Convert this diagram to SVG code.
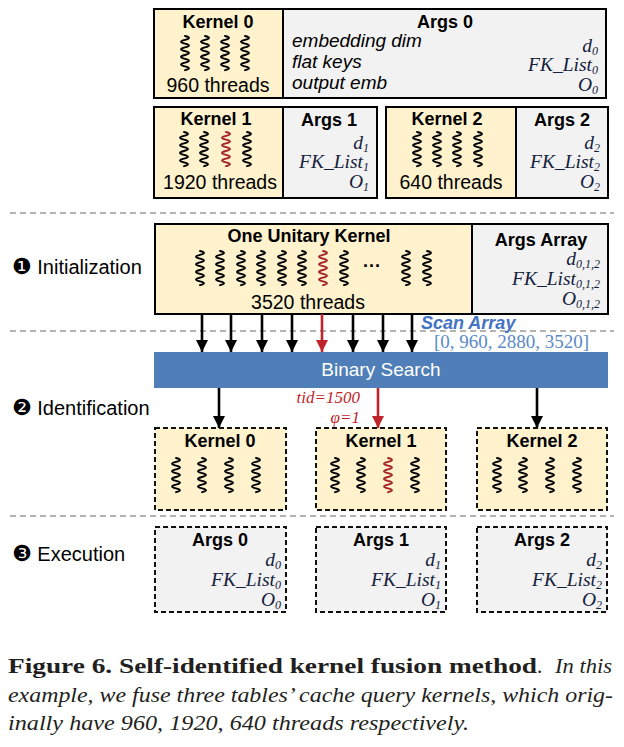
<svg xmlns="http://www.w3.org/2000/svg" xmlns:xlink="http://www.w3.org/1999/xlink" width="624" height="747" viewBox="0 0 624 747">
<style>
.kfill{fill:#FFF2CC}
.afill{fill:#F2F2F2}
.solid{stroke:#000;stroke-width:2;fill:none}
.dash{stroke:#111;stroke-width:2;fill:none;stroke-dasharray:5,3}
.sep{stroke:#9a9a9a;stroke-width:1.3;stroke-dasharray:6,4;fill:none}
.bold{font-family:"Liberation Sans",Arial,sans-serif;font-weight:bold;font-size:18px;fill:#000}
.reg{font-family:"Liberation Sans",Arial,sans-serif;font-size:19.5px;fill:#000}
.it{font-family:"Liberation Sans",Arial,sans-serif;font-style:italic;font-size:19px;fill:#000}
.mi{font-family:"Liberation Serif","Times New Roman",serif;font-style:italic;font-size:19.5px;fill:#14213d}
.sub{font-size:12px}
.sec{font-family:"Liberation Sans",Arial,sans-serif;font-size:20px;fill:#000}
.num{font-family:"DejaVu Sans",sans-serif;font-size:22px}
.sq{stroke:#000}
.sqr{stroke:#A5252A}
.arr{stroke:#000;stroke-width:2.6}
.arrr{stroke:#C0242B;stroke-width:2.6}
.red{font-family:"Liberation Serif","Times New Roman",serif;font-style:italic;font-size:17px;fill:#C0242B}
.cap{font-family:"Liberation Serif","Times New Roman",serif;font-size:21px;fill:#231F20}
</style>
<defs>
<path id="sq" d="M0,0 q8,1.9 0,3.8 t0,3.8 t0,3.8 t0,3.8 t0,3.8 t0,3.8 t0,3.8 t0,3.8 t0,3.8" fill="none" stroke-width="1.9" stroke-linecap="round"/>
<marker id="ab" markerUnits="userSpaceOnUse" markerWidth="12" markerHeight="12" refX="12" refY="6" orient="auto"><path d="M0,0 L12,6 L0,12 z" fill="#000"/></marker>
<marker id="ar" markerUnits="userSpaceOnUse" markerWidth="12" markerHeight="12" refX="12" refY="6" orient="auto"><path d="M0,0 L12,6 L0,12 z" fill="#C0242B"/></marker>
</defs>

<!-- section separators -->
<g id="separators">
<line class="sep" x1="10" y1="213" x2="614" y2="213"/>
<line class="sep" x1="10" y1="331" x2="614" y2="331"/>
<line class="sep" x1="10" y1="516" x2="614" y2="516"/>
</g>

<!-- Kernel 0 / Args 0 -->
<g id="kernel0-top">
<rect class="kfill" x="154" y="9" width="129" height="89"/>
<rect class="afill" x="283" y="9" width="323" height="89"/>
<rect class="solid" x="154" y="9" width="452" height="89"/>
<line class="solid" x1="283" y1="9" x2="283" y2="98"/>
<text class="bold" x="218" y="28" text-anchor="middle">Kernel 0</text>
<use href="#sq" class="sq" x="185" y="36"/>
<use href="#sq" class="sq" x="205" y="36"/>
<use href="#sq" class="sq" x="225" y="36"/>
<use href="#sq" class="sq" x="245" y="36"/>
<text class="reg" x="218" y="92" text-anchor="middle">960 threads</text>
</g>
<g id="args0-top">
<text class="bold" x="445" y="28" text-anchor="middle">Args 0</text>
<text class="it" x="292" y="47">embedding dim</text>
<text class="it" x="292" y="68">flat keys</text>
<text class="it" x="292" y="89">output emb</text>
<text class="mi" x="598" y="52" text-anchor="end">d<tspan class="sub" dy="3">0</tspan></text>
<text class="mi" x="598" y="71" text-anchor="end">FK_List<tspan class="sub" dy="3">0</tspan></text>
<text class="mi" x="598" y="91" text-anchor="end">O<tspan class="sub" dy="3">0</tspan></text>
</g>

<!-- Kernel 1 / Args 1 -->
<g id="kernel1-top">
<rect class="kfill" x="154" y="107" width="129" height="91"/>
<rect class="afill" x="283" y="107" width="94" height="91"/>
<rect class="solid" x="154" y="107" width="223" height="91"/>
<line class="solid" x1="283" y1="107" x2="283" y2="198"/>
<text class="bold" x="216" y="125" text-anchor="middle">Kernel 1</text>
<use href="#sq" class="sq" x="184" y="132"/>
<use href="#sq" class="sq" x="204" y="132"/>
<use href="#sq" class="sqr" x="226" y="132"/>
<use href="#sq" class="sq" x="247" y="132"/>
<text class="reg" x="220" y="189" text-anchor="middle">1920 threads</text>
<text class="bold" x="329" y="126" text-anchor="middle">Args 1</text>
<text class="mi" x="369" y="149" text-anchor="end">d<tspan class="sub" dy="3">1</tspan></text>
<text class="mi" x="369" y="168" text-anchor="end">FK_List<tspan class="sub" dy="3">1</tspan></text>
<text class="mi" x="369" y="188" text-anchor="end">O<tspan class="sub" dy="3">1</tspan></text>
</g>

<!-- Kernel 2 / Args 2 -->
<g id="kernel2-top">
<rect class="kfill" x="386" y="107" width="130" height="91"/>
<rect class="afill" x="516" y="107" width="92" height="91"/>
<rect class="solid" x="386" y="107" width="222" height="91"/>
<line class="solid" x1="516" y1="107" x2="516" y2="198"/>
<text class="bold" x="447" y="125" text-anchor="middle">Kernel 2</text>
<use href="#sq" class="sq" x="417" y="132"/>
<use href="#sq" class="sq" x="437" y="132"/>
<use href="#sq" class="sq" x="457" y="132"/>
<use href="#sq" class="sq" x="478" y="132"/>
<text class="reg" x="451" y="189" text-anchor="middle">640 threads</text>
<text class="bold" x="562" y="126" text-anchor="middle">Args 2</text>
<text class="mi" x="600" y="149" text-anchor="end">d<tspan class="sub" dy="3">2</tspan></text>
<text class="mi" x="600" y="168" text-anchor="end">FK_List<tspan class="sub" dy="3">2</tspan></text>
<text class="mi" x="600" y="188" text-anchor="end">O<tspan class="sub" dy="3">2</tspan></text>
</g>

<!-- section labels -->
<g id="label-init"><text class="sec" x="12" y="274"><tspan class="num">❶</tspan> Initialization</text></g>
<g id="label-ident"><text class="sec" x="12" y="415"><tspan class="num">❷</tspan> Identification</text></g>
<g id="label-exec"><text class="sec" x="12" y="561"><tspan class="num">❸</tspan> Execution</text></g>

<!-- Unitary kernel -->
<g id="unitary-kernel">
<rect class="kfill" x="155" y="224" width="317" height="90"/>
<rect class="afill" x="472" y="224" width="136" height="90"/>
<rect class="solid" x="155" y="224" width="453" height="90"/>
<line class="solid" x1="472" y1="224" x2="472" y2="314"/>
<text class="bold" x="309" y="242" text-anchor="middle">One Unitary Kernel</text>
<use href="#sq" class="sq" x="200" y="251"/>
<use href="#sq" class="sq" x="220" y="251"/>
<use href="#sq" class="sq" x="241" y="251"/>
<use href="#sq" class="sq" x="261" y="251"/>
<use href="#sq" class="sq" x="282" y="251"/>
<use href="#sq" class="sq" x="302" y="251"/>
<use href="#sq" class="sqr" x="323" y="251"/>
<use href="#sq" class="sq" x="344" y="251"/>
<text class="bold" x="372" y="272" text-anchor="middle">···</text>
<use href="#sq" class="sq" x="406" y="251"/>
<use href="#sq" class="sq" x="427" y="251"/>
<text class="reg" x="308" y="309" text-anchor="middle" font-size="20">3520 threads</text>
</g>
<g id="args-array">
<text class="bold" x="541" y="246" text-anchor="middle">Args Array</text>
<text class="mi" x="600" y="265" text-anchor="end">d<tspan class="sub" dy="3">0,1,2</tspan></text>
<text class="mi" x="600" y="285" text-anchor="end">FK_List<tspan class="sub" dy="3">0,1,2</tspan></text>
<text class="mi" x="600" y="305" text-anchor="end">O<tspan class="sub" dy="3">0,1,2</tspan></text>
</g>

<!-- Scan array + binary search -->
<g id="scan-array">
<text x="421" y="329" font-family="Liberation Sans,Arial,sans-serif" font-weight="bold" font-style="italic" font-size="18" fill="#4472C4">Scan Array</text>
<text x="434" y="348" font-family="Liberation Serif,Times New Roman,serif" font-size="19" fill="#5B8AC8">[0, 960, 2880, 3520]</text>
</g>
<g id="binary-search">
<rect x="154" y="352" width="454" height="36" fill="#4F7EB8"/>
<text x="381" y="376" text-anchor="middle" font-family="Liberation Sans,Arial,sans-serif" font-size="19" fill="#fff">Binary Search</text>
</g>

<!-- connectors -->
<g id="connectors">
<line class="arr" x1="202" y1="314" x2="202" y2="352" marker-end="url(#ab)"/>
<line class="arr" x1="231" y1="314" x2="231" y2="352" marker-end="url(#ab)"/>
<line class="arr" x1="262" y1="314" x2="262" y2="352" marker-end="url(#ab)"/>
<line class="arr" x1="292" y1="314" x2="292" y2="352" marker-end="url(#ab)"/>
<line class="arrr" x1="322" y1="314" x2="322" y2="352" marker-end="url(#ar)"/>
<line class="arr" x1="353" y1="314" x2="353" y2="352" marker-end="url(#ab)"/>
<line class="arr" x1="383" y1="314" x2="383" y2="352" marker-end="url(#ab)"/>
<line class="arr" x1="412" y1="314" x2="412" y2="352" marker-end="url(#ab)"/>
<line class="arr" x1="219" y1="388" x2="219" y2="428" marker-end="url(#ab)"/>
<line class="arrr" x1="378" y1="388" x2="378" y2="428" marker-end="url(#ar)"/>
<line class="arr" x1="537" y1="388" x2="537" y2="428" marker-end="url(#ab)"/>
<text class="red" x="360" y="403" text-anchor="end">tid=1500</text>
<text class="red" x="360" y="423" text-anchor="end">φ=1</text>
</g>

<!-- identified kernels -->
<g id="id-kernel0">
<rect class="kfill" x="155" y="428" width="131" height="82"/>
<rect class="dash" x="155" y="428" width="131" height="82"/>
<text class="bold" x="220" y="447" text-anchor="middle">Kernel 0</text>
<use href="#sq" class="sq" x="176" y="458"/>
<use href="#sq" class="sq" x="202" y="458"/>
<use href="#sq" class="sq" x="229" y="458"/>
<use href="#sq" class="sq" x="256" y="458"/>
</g>
<g id="id-kernel1">
<rect class="kfill" x="316" y="428" width="130" height="82"/>
<rect class="dash" x="316" y="428" width="130" height="82"/>
<text class="bold" x="381" y="447" text-anchor="middle">Kernel 1</text>
<use href="#sq" class="sq" x="335" y="458"/>
<use href="#sq" class="sq" x="361" y="458"/>
<use href="#sq" class="sqr" x="388" y="458"/>
<use href="#sq" class="sq" x="415" y="458"/>
</g>
<g id="id-kernel2">
<rect class="kfill" x="477" y="428" width="130" height="82"/>
<rect class="dash" x="477" y="428" width="130" height="82"/>
<text class="bold" x="542" y="447" text-anchor="middle">Kernel 2</text>
<use href="#sq" class="sq" x="497" y="458"/>
<use href="#sq" class="sq" x="523" y="458"/>
<use href="#sq" class="sq" x="550" y="458"/>
<use href="#sq" class="sq" x="577" y="458"/>
</g>

<!-- execution args -->
<g id="ex-args0">
<rect class="afill" x="155" y="527" width="131" height="85"/>
<rect class="dash" x="155" y="527" width="131" height="85"/>
<text class="bold" x="220" y="546" text-anchor="middle">Args 0</text>
<text class="mi" x="281" y="566" text-anchor="end">d<tspan class="sub" dy="3">0</tspan></text>
<text class="mi" x="281" y="586" text-anchor="end">FK_List<tspan class="sub" dy="3">0</tspan></text>
<text class="mi" x="281" y="606" text-anchor="end">O<tspan class="sub" dy="3">0</tspan></text>
</g>
<g id="ex-args1">
<rect class="afill" x="316" y="527" width="130" height="85"/>
<rect class="dash" x="316" y="527" width="130" height="85"/>
<text class="bold" x="381" y="546" text-anchor="middle">Args 1</text>
<text class="mi" x="441" y="566" text-anchor="end">d<tspan class="sub" dy="3">1</tspan></text>
<text class="mi" x="441" y="586" text-anchor="end">FK_List<tspan class="sub" dy="3">1</tspan></text>
<text class="mi" x="441" y="606" text-anchor="end">O<tspan class="sub" dy="3">1</tspan></text>
</g>
<g id="ex-args2">
<rect class="afill" x="477" y="527" width="130" height="85"/>
<rect class="dash" x="477" y="527" width="130" height="85"/>
<text class="bold" x="542" y="546" text-anchor="middle">Args 2</text>
<text class="mi" x="602" y="566" text-anchor="end">d<tspan class="sub" dy="3">2</tspan></text>
<text class="mi" x="602" y="586" text-anchor="end">FK_List<tspan class="sub" dy="3">2</tspan></text>
<text class="mi" x="602" y="606" text-anchor="end">O<tspan class="sub" dy="3">2</tspan></text>
</g>

<!-- caption -->
<g id="caption">
<text class="cap" x="8" y="673" font-weight="bold" textLength="529" lengthAdjust="spacingAndGlyphs">Figure 6. Self-identified kernel fusion method</text>
<text class="cap" x="537" y="673">.</text>
<text class="cap" x="555" y="673" font-style="italic" textLength="57" lengthAdjust="spacingAndGlyphs">In this</text>
<text class="cap" x="8" y="702" font-style="italic" textLength="605" lengthAdjust="spacingAndGlyphs">example, we fuse three tables’ cache query kernels, which orig-</text>
<text class="cap" x="8" y="730" font-style="italic" textLength="461" lengthAdjust="spacingAndGlyphs">inally have 960, 1920, 640 threads respectively.</text>
</g>
</svg>
